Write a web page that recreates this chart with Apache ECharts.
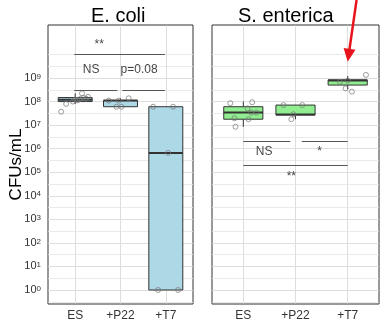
<!DOCTYPE html>
<html><head><meta charset="utf-8">
<script src="https://cdn.jsdelivr.net/npm/echarts@6/dist/echarts.min.js"></script>
<style>html,body{margin:0;padding:0;background:#fff}#c{width:386px;height:328px}</style>
</head><body><div id="c"></div>
<script>
const FONT = "'Liberation Sans', Arial, Helvetica, sans-serif";
const categories = ['ES', '+P22', '+T7'];
const panelTitles = ['E. coli', 'S. enterica'];
const yTickExponents = [0, 1, 2, 3, 4, 5, 6, 7, 8, 9];   // labels 10^0 .. 10^9
const yMinorExponents = [-0.5, 0.5, 1.5, 2.5, 3.5, 4.5, 5.5, 6.5, 7.5, 8.5, 9.5, 10];
const yRange = [-0.595, 11.25];
const xRange = [-0.6, 2.6];

// Box statistics in log10(CFUs/mL): [lower whisker, Q1, median, Q3, upper whisker]
const ecoliBoxES  = [7.90, 8.00, 8.08, 8.17, 8.35];
const ecoliBoxP22 = [7.78, 7.78, 8.04, 8.04, 8.14];
const ecoliBoxT7  = [0.00, 0.00, 5.82, 7.78, 7.78];
const entBoxES    = [6.93, 7.25, 7.53, 7.78, 8.00];
const entBoxP22   = [7.25, 7.43, 7.45, 7.85, 7.85];
const entBoxT7    = [8.53, 8.70, 8.89, 8.92, 9.08];

// Individual replicates, log10(CFUs/mL), with horizontal jitter (category units)
const ecoliPtsES  = [7.57, 7.90, 8.35, 8.15, 8.05, 8.10, 8.12, 8.20, 8.00, 8.08];
const ecoliJitES  = [-0.31, -0.20, 0.15, 0.18, 0.05, 0.10, 0.24, 0.28, -0.05, 0.00];
const ecoliPtsP22 = [8.04, 8.04, 8.14, 7.78, 7.78];
const ecoliJitP22 = [-0.26, -0.04, 0.18, -0.09, 0.02];
const ecoliPtsT7  = [7.78, 7.78, 5.82, 0.00, 0.00];
const ecoliJitT7  = [-0.28, 0.16, 0.05, -0.17, 0.27];
const entPtsES    = [7.93, 7.97, 7.71, 7.53, 7.53, 7.29, 7.25, 6.93];
const entJitES    = [-0.25, 0.17, 0.08, 0.15, 0.25, -0.17, 0.10, -0.15];
const entPtsP22   = [7.85, 7.85, 7.46, 7.25];
const entJitP22   = [-0.23, 0.13, -0.04, -0.08];
const entPtsT7    = [9.13, 8.84, 8.89, 8.56, 8.42];
const entJitT7    = [0.35, -0.15, 0.00, -0.04, 0.08];

// Significance brackets: [x start, x end, y]  and labels: [text, x, y]
const ecoliBrackets = [[-0.02, 0.93, 8.46], [1.04, 1.98, 8.46], [-0.02, 1.98, 10.02]];
const ecoliSigLabels = [['NS', 0.35, 9.34], ['p=0.08', 1.41, 9.34], ['**', 0.53, 10.40]];
const entBrackets = [[0.00, 0.90, 6.30], [1.12, 2.00, 6.30], [0.00, 2.00, 5.28]];
const entSigLabels = [['NS', 0.40, 5.87], ['*', 1.46, 5.87], ['**', 0.92, 4.80]];

// Red arrow in S. enterica panel (data units): tail -> tip
const arrowTail = [2.17, 12.31];
const arrowTip = [2.0, 9.69];

const boxColors = ['#ADD8E6', '#90EE90'];

function renderBox(params, api) {
  const x = api.value(0);
  const pLo = api.coord([x, api.value(1)]);
  const pQ1 = api.coord([x, api.value(2)]);
  const pMd = api.coord([x, api.value(3)]);
  const pQ3 = api.coord([x, api.value(4)]);
  const pHi = api.coord([x, api.value(5)]);
  const w = api.size([0.75, 0])[0];
  const c = pQ1[0];
  const ls = { stroke: '#333', lineWidth: 1 };
  return {
    type: 'group', children: [
      { type: 'line', shape: { x1: c, y1: pHi[1], x2: c, y2: pQ3[1] }, style: ls },
      { type: 'line', shape: { x1: c, y1: pQ1[1], x2: c, y2: pLo[1] }, style: ls },
      { type: 'rect', shape: { x: c - w / 2, y: pQ3[1], width: w, height: Math.max(pQ1[1] - pQ3[1], 0.5) },
        style: { fill: api.visual('color'), stroke: '#333', lineWidth: 1 } },
      { type: 'line', shape: { x1: c - w / 2, y1: pMd[1], x2: c + w / 2, y2: pMd[1] }, style: { stroke: '#333', lineWidth: 2 } }
    ]
  };
}

function pointsSeries(gi, ptsList, jitList) {
  const data = [];
  ptsList.forEach((pts, ci) => pts.forEach((v, k) => data.push([ci + jitList[ci][k], v])));
  return { type: 'scatter', xAxisIndex: gi, yAxisIndex: gi, z: 5, symbol: 'circle', symbolSize: 5, silent: true,
    itemStyle: { color: 'rgba(255,255,255,0)', borderColor: '#777', borderWidth: 0.9 }, data: data };
}

function boxSeries(gi, boxes) {
  return { type: 'custom', xAxisIndex: gi, yAxisIndex: gi, z: 3, silent: true, renderItem: renderBox,
    itemStyle: { color: boxColors[gi] }, encode: { x: 0, y: [1, 2, 3, 4, 5] },
    data: boxes.map((b, i) => [i].concat(b)) };
}

function lineSeg(gi, coordsList, color, width, z) {
  return { type: 'lines', coordinateSystem: 'cartesian2d', xAxisIndex: gi, yAxisIndex: gi, silent: true, z: z,
    lineStyle: { color: color, width: width, opacity: 1 },
    data: coordsList.map(c => ({ coords: c })) };
}

function gridSeries(gi) {
  const minor = yMinorExponents.map(v => [[xRange[0] + 0.005, v], [xRange[1] - 0.005, v]]);
  const majorH = yTickExponents.map(v => [[xRange[0] + 0.005, v], [xRange[1] - 0.005, v]]);
  const majorV = categories.map((c, i) => [[i, yRange[0] + 0.02], [i, yRange[1] - 0.02]]);
  return [lineSeg(gi, minor, '#EAEAEA', 1, 2), lineSeg(gi, majorH.concat(majorV), '#DEDEDE', 1, 2)];
}

function sigLabelSeries(gi, labs) {
  return { type: 'scatter', xAxisIndex: gi, yAxisIndex: gi, symbolSize: 0, silent: true, z: 6,
    label: { show: true, position: 'inside', formatter: '{b}', color: '#111', fontSize: 12, fontFamily: FONT },
    data: labs.map(l => ({ name: l[0], value: [l[1], l[2]] })) };
}

const grids = [
  { left: 48, top: 25, width: 145, height: 279 },
  { left: 212, top: 25, width: 167, height: 279 }
].map(g => Object.assign(g, { show: true, borderColor: '#333', borderWidth: 1, containLabel: false }));

const xAxes = [0, 1].map(gi => ({
  type: 'value', gridIndex: gi, min: xRange[0], max: xRange[1],
  axisLine: { show: false }, splitLine: { show: false },
  axisTick: { show: true, customValues: [0, 1, 2], length: 4, lineStyle: { color: '#333' } },
  axisLabel: { customValues: [0, 1, 2], formatter: v => categories[Math.round(v)], color: '#333', fontSize: 12, fontFamily: FONT, margin: 6 }
}));

const yAxes = [0, 1].map(gi => ({
  type: 'value', gridIndex: gi, min: yRange[0], max: yRange[1],
  axisLine: { show: false }, splitLine: { show: false },
  axisTick: { show: true, customValues: yTickExponents, length: 4, lineStyle: { color: '#333' } },
  axisLabel: gi === 0 ? {
    customValues: yTickExponents, margin: 7,
    formatter: v => '{b|10}{s|' + v + '}',
    rich: { b: { fontSize: 11, color: '#333', fontFamily: FONT }, s: { fontSize: 8, color: '#333', fontFamily: FONT, verticalAlign: 'top' } }
  } : { show: false }
}));

const series = [].concat(
  gridSeries(0), gridSeries(1),
  [boxSeries(0, [ecoliBoxES, ecoliBoxP22, ecoliBoxT7]),
   boxSeries(1, [entBoxES, entBoxP22, entBoxT7]),
   pointsSeries(0, [ecoliPtsES, ecoliPtsP22, ecoliPtsT7], [ecoliJitES, ecoliJitP22, ecoliJitT7]),
   pointsSeries(1, [entPtsES, entPtsP22, entPtsT7], [entJitES, entJitP22, entJitT7]),
   lineSeg(0, ecoliBrackets.map(b => [[b[0], b[2]], [b[1], b[2]]]), '#555', 1, 4),
   lineSeg(1, entBrackets.map(b => [[b[0], b[2]], [b[1], b[2]]]), '#555', 1, 4),
   sigLabelSeries(0, ecoliSigLabels), sigLabelSeries(1, entSigLabels)]
);

const chart = echarts.init(document.getElementById('c'), null, { renderer: 'canvas' });
chart.setOption({
  animation: false,
  backgroundColor: '#fff',
  grid: grids, xAxis: xAxes, yAxis: yAxes, series: series
});

// red arrow, positioned from data coordinates of the right panel
const tail = chart.convertToPixel({ gridIndex: 1 }, arrowTail);
const tip = chart.convertToPixel({ gridIndex: 1 }, arrowTip);
const dx = tip[0] - tail[0], dy = tip[1] - tail[1];
const len = Math.sqrt(dx * dx + dy * dy);
const ux = dx / len, uy = dy / len, nx = -uy, ny = ux;
const headLen = 13, headHalf = 6;
const bx = tip[0] - ux * headLen, by = tip[1] - uy * headLen;
chart.setOption({
  graphic: [
    { type: 'text', left: 91, top: 6, style: { text: panelTitles[0], font: '20px ' + FONT, fill: '#000' } },
    { type: 'text', left: 238, top: 6, style: { text: panelTitles[1], font: '20px ' + FONT, fill: '#000' } },
    { type: 'text', x: 16, y: 164.5, rotation: Math.PI / 2, style: { text: 'CFUs/mL', font: '17px ' + FONT, fill: '#000', align: 'center', verticalAlign: 'middle' } },
    { type: 'line', z: 100, shape: { x1: tail[0], y1: tail[1], x2: bx + ux * 2, y2: by + uy * 2 }, style: { stroke: '#E8141C', lineWidth: 2.5 } },
    { type: 'polygon', z: 100, shape: { points: [[tip[0], tip[1]], [bx + nx * headHalf, by + ny * headHalf], [bx - nx * headHalf, by - ny * headHalf]] }, style: { fill: '#E8141C' } }
  ]
});
</script>
</body></html>
